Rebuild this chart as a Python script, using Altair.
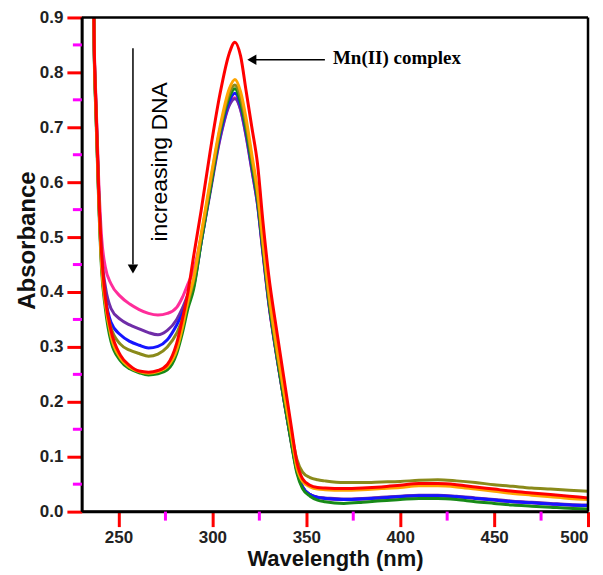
import altair as alt
import pandas as pd

wavelength = [236.9, 237, 238, 239.5, 241, 243, 246, 251, 256, 261, 266, 271, 276, 281, 284, 287, 290,
              294, 299, 304, 309, 312, 315, 318, 321, 324, 327, 330, 334, 338, 342, 345, 348, 352, 356, 360,
              370, 380, 390, 400, 410, 420, 430, 440, 450, 460, 470, 480, 490, 500]

abs_pink = [0.9, 0.87, 0.75, 0.60, 0.50, 0.445, 0.415, 0.392, 0.378, 0.368, 0.361, 0.358, 0.361, 0.372, 0.39,
            0.415, 0.44, 0.50, 0.59, 0.68, 0.742, 0.754, 0.733, 0.684, 0.623, 0.56, 0.468, 0.38, 0.288, 0.205,
            0.127, 0.074, 0.045, 0.031, 0.026, 0.024, 0.022, 0.023, 0.025, 0.027, 0.029, 0.029, 0.027, 0.024,
            0.021, 0.018, 0.016, 0.014, 0.012, 0.011]
abs_purple = [0.9, 0.86, 0.74, 0.58, 0.47, 0.41, 0.37, 0.35, 0.34, 0.333, 0.326, 0.322, 0.33, 0.35, 0.37,
              0.395, 0.415, 0.49, 0.585, 0.678, 0.74, 0.752, 0.732, 0.683, 0.622, 0.56, 0.468, 0.38, 0.288, 0.205,
              0.127, 0.074, 0.045, 0.031, 0.026, 0.025, 0.023, 0.024, 0.026, 0.028, 0.030, 0.030, 0.028, 0.025,
              0.022, 0.019, 0.017, 0.015, 0.013, 0.012]
abs_blue = [0.9, 0.86, 0.73, 0.57, 0.455, 0.39, 0.345, 0.322, 0.31, 0.303, 0.298, 0.301, 0.313, 0.34, 0.36,
            0.385, 0.41, 0.49, 0.59, 0.685, 0.748, 0.762, 0.74, 0.69, 0.628, 0.564, 0.472, 0.383, 0.29, 0.207,
            0.128, 0.075, 0.045, 0.031, 0.026, 0.024, 0.022, 0.023, 0.025, 0.027, 0.029, 0.029, 0.027, 0.024,
            0.021, 0.018, 0.016, 0.014, 0.012, 0.011]
abs_green = [0.9, 0.85, 0.72, 0.56, 0.44, 0.37, 0.31, 0.275, 0.26, 0.253, 0.249, 0.251, 0.258, 0.288, 0.325,
             0.37, 0.405, 0.49, 0.59, 0.69, 0.755, 0.77, 0.745, 0.695, 0.632, 0.568, 0.475, 0.385, 0.29, 0.205,
             0.125, 0.07, 0.042, 0.028, 0.021, 0.018, 0.015, 0.017, 0.020, 0.022, 0.024, 0.024, 0.022, 0.018,
             0.015, 0.012, 0.010, 0.008, 0.006, 0.005]
abs_olive = [0.9, 0.86, 0.73, 0.57, 0.45, 0.38, 0.335, 0.305, 0.294, 0.288, 0.283, 0.287, 0.300, 0.325, 0.35,
             0.38, 0.42, 0.50, 0.60, 0.695, 0.762, 0.777, 0.755, 0.705, 0.642, 0.578, 0.485, 0.395, 0.30, 0.22,
             0.145, 0.095, 0.072, 0.062, 0.058, 0.056, 0.053, 0.053, 0.054, 0.055, 0.057, 0.058, 0.056, 0.053,
             0.049, 0.046, 0.043, 0.041, 0.039, 0.037]
abs_orange = [0.9, 0.86, 0.73, 0.57, 0.45, 0.38, 0.32, 0.28, 0.263, 0.255, 0.252, 0.255, 0.264, 0.295, 0.335,
              0.385, 0.425, 0.505, 0.605, 0.70, 0.77, 0.787, 0.765, 0.715, 0.65, 0.585, 0.49, 0.40, 0.305, 0.22,
              0.14, 0.08, 0.055, 0.045, 0.041, 0.040, 0.039, 0.040, 0.042, 0.044, 0.047, 0.047, 0.045, 0.041,
              0.037, 0.033, 0.030, 0.027, 0.024, 0.022]
abs_red = [0.9, 0.87, 0.74, 0.58, 0.47, 0.39, 0.33, 0.285, 0.266, 0.256, 0.254, 0.257, 0.268, 0.307, 0.35,
           0.40, 0.465, 0.548, 0.66, 0.76, 0.835, 0.855, 0.83, 0.765, 0.70, 0.634, 0.525, 0.43, 0.335, 0.245,
           0.155, 0.09, 0.06, 0.048, 0.044, 0.043, 0.042, 0.043, 0.045, 0.048, 0.051, 0.051, 0.049, 0.045,
           0.041, 0.037, 0.034, 0.031, 0.028, 0.025]

series_names = ["+DNA 1", "+DNA 2", "+DNA 3", "+DNA 6", "+DNA 4", "+DNA 5", "Mn(II) complex"]
series_values = [abs_pink, abs_purple, abs_blue, abs_green, abs_olive, abs_orange, abs_red]
series_colors = ["#ff2d9a", "#6f2da8", "#1515ff", "#178a17", "#8a8a1a", "#ffa500", "#ff0000"]

x_domain = [230.5, 500]
y_domain = [0.0, 0.9]
x_major = [250, 300, 350, 400, 450, 500]
x_minor = [275, 325, 375, 425, 475]
y_major = [0.0, 0.1, 0.2, 0.3, 0.4, 0.5, 0.6, 0.7, 0.8, 0.9]
y_minor = [0.05, 0.15, 0.25, 0.35, 0.45, 0.55, 0.65, 0.75, 0.85]

# annotations (data units)
dna_arrow_x = [257.7]
dna_arrow_top = [0.844]
dna_arrow_end = [0.45]
dna_arrow_tip = [0.442]
dna_label = ["increasing DNA"]
dna_label_pos = [272.0, 0.637]
mn_arrow_y = [0.823]
mn_arrow_start = [359.9]
mn_arrow_end = [321.0]
mn_arrow_tip = [321.0]
mn_label = ["Mn(II) complex"]
mn_label_pos = [364.2, 0.826]

PLOT_W = 507
PLOT_H = 495
MAJOR = 15
MINOR = 9

rows = []
for name, vals in zip(series_names, series_values):
    for w, a in zip(wavelength, vals):
        rows.append({"wavelength": w, "absorbance": a, "series": name})
df = pd.DataFrame(rows)

axis_common = dict(domain=True, domainColor="black", domainWidth=2.5, ticks=True, tickColor="red",
                   tickWidth=3, tickSize=MAJOR, labelFont="Liberation Sans", labelFontWeight="bold",
                   labelFontSize=17, labelColor="#222222", titleFont="Liberation Sans",
                   titleFontWeight="bold", titleColor="#111111", titleBaseline="alphabetic")

x_enc = alt.X("wavelength:Q",
              scale=alt.Scale(domain=x_domain, nice=False, zero=False),
              axis=alt.Axis(values=x_major, title="Wavelength (nm)", gridOpacity=0,
                            titleFontSize=22, titleY=54, labelPadding=3, **axis_common))
y_enc = alt.Y("absorbance:Q",
              scale=alt.Scale(domain=y_domain, nice=False, zero=False),
              axis=alt.Axis(values=y_major, title="Absorbance", format=".1f", gridOpacity=0,
                            titleFontSize=24, titleX=-47, titleY=223, titleAlign="center",
                            labelPadding=4, **axis_common))

lines = alt.Chart(df).mark_line(strokeWidth=3, interpolate="monotone").encode(
    x=x_enc,
    y=y_enc,
    color=alt.Color("series:N", scale=alt.Scale(domain=series_names, range=series_colors), legend=None),
)

frame_v = alt.Chart(pd.DataFrame({"wavelength": x_domain, "absorbance": [y_domain[0]] * 2,
                                  "absorbance2": [y_domain[1]] * 2})).mark_rule(
    color="black", strokeWidth=2.5).encode(x="wavelength:Q", y="absorbance:Q", y2="absorbance2:Q")
frame_h = alt.Chart(pd.DataFrame({"absorbance": y_domain, "wavelength": [x_domain[0]] * 2,
                                  "wavelength2": [x_domain[1]] * 2})).mark_rule(
    color="black", strokeWidth=2.5).encode(y="absorbance:Q", x="wavelength:Q", x2="wavelength2:Q")

xminor = alt.Chart(pd.DataFrame({"wavelength": x_minor})).mark_rule(color="magenta", strokeWidth=3).encode(
    x="wavelength:Q", y=alt.value(PLOT_H), y2=alt.value(PLOT_H + MINOR))
yminor = alt.Chart(pd.DataFrame({"absorbance": y_minor})).mark_rule(color="magenta", strokeWidth=3).encode(
    y="absorbance:Q", x=alt.value(-MINOR), x2=alt.value(0))

dna_df = pd.DataFrame({"wavelength": dna_arrow_x, "absorbance": dna_arrow_top, "absorbance2": dna_arrow_end})
dna_rule = alt.Chart(dna_df).mark_rule(color="black", strokeWidth=1.5).encode(
    x="wavelength:Q", y="absorbance:Q", y2="absorbance2:Q")
dna_tip = alt.Chart(pd.DataFrame({"wavelength": dna_arrow_x, "absorbance": dna_arrow_tip})).mark_point(
    shape="triangle-down", filled=True, size=110, color="black", opacity=1).encode(
    x="wavelength:Q", y="absorbance:Q")
dna_text = alt.Chart(pd.DataFrame({"wavelength": [dna_label_pos[0]], "absorbance": [dna_label_pos[1]],
                                   "label": dna_label})).mark_text(
    angle=270, font="Liberation Sans", fontSize=23, align="center", baseline="middle", color="black").encode(
    x="wavelength:Q", y="absorbance:Q", text="label:N")

mn_df = pd.DataFrame({"wavelength": mn_arrow_start, "wavelength2": mn_arrow_end, "absorbance": mn_arrow_y})
mn_rule = alt.Chart(mn_df).mark_rule(color="black", strokeWidth=1.5).encode(
    x="wavelength:Q", x2="wavelength2:Q", y="absorbance:Q")
mn_tip = alt.Chart(pd.DataFrame({"wavelength": mn_arrow_tip, "absorbance": mn_arrow_y})).mark_point(
    shape="triangle-left", filled=True, size=110, color="black", opacity=1).encode(
    x="wavelength:Q", y="absorbance:Q")
mn_text = alt.Chart(pd.DataFrame({"wavelength": [mn_label_pos[0]], "absorbance": [mn_label_pos[1]],
                                  "label": mn_label})).mark_text(
    font="Liberation Serif", fontWeight="bold", fontSize=19, align="left", baseline="middle", color="black").encode(
    x="wavelength:Q", y="absorbance:Q", text="label:N")

chart = alt.layer(lines, frame_v, frame_h, xminor, yminor, dna_rule, dna_tip, dna_text,
                  mn_rule, mn_tip, mn_text).properties(
    width=PLOT_W, height=PLOT_H,
    autosize=alt.AutoSizeParams(type="none"),
    padding={"left": 74, "top": 9, "right": 7, "bottom": 60},
).configure_view(
    strokeWidth=0
)

chart.save("out.html", embed_options={"renderer": "svg", "actions": False})
